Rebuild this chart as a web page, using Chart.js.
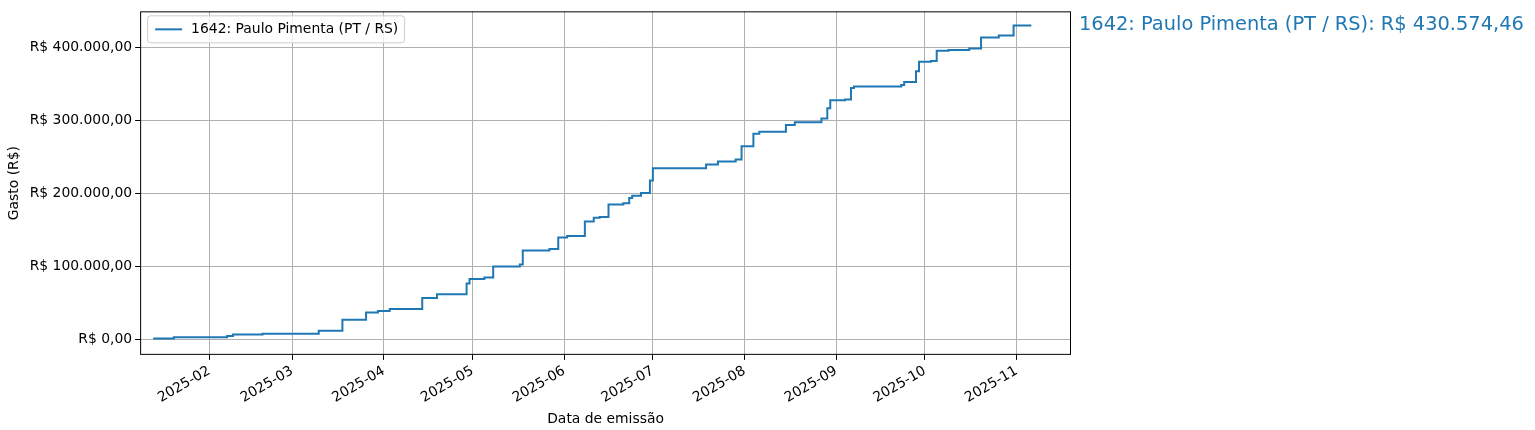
<!DOCTYPE html>
<html><head><meta charset="utf-8">
<script src="https://cdn.jsdelivr.net/npm/chart.js@4"></script>
<style>body{margin:0;background:#fff}#w{width:1535px;height:430px}</style>
</head><body><div id="w"><canvas id="c"></canvas></div>
<script>
const dates=["2025-01-13","2025-01-20","2025-02-07","2025-02-09","2025-02-19","2025-03-10","2025-03-18","2025-03-26","2025-03-30","2025-04-03","2025-04-14","2025-04-19","2025-04-29","2025-04-30","2025-05-05","2025-05-08","2025-05-17","2025-05-18","2025-05-27","2025-05-30","2025-06-02","2025-06-08","2025-06-11","2025-06-13","2025-06-16","2025-06-21","2025-06-23","2025-06-24","2025-06-27","2025-06-30","2025-07-01","2025-07-19","2025-07-23","2025-07-29","2025-07-31","2025-08-04","2025-08-06","2025-08-15","2025-08-18","2025-08-27","2025-08-29","2025-08-30","2025-09-04","2025-09-06","2025-09-07","2025-09-23","2025-09-24","2025-09-28","2025-09-29","2025-10-03","2025-10-05","2025-10-09","2025-10-16","2025-10-20","2025-10-26","2025-10-31","2025-11-06"];
const values=[1400,3000,5000,7000,8000,12000,27000,37000,39000,42000,57000,62000,77000,83000,85000,100000,103000,122000,124000,140000,142000,162000,167000,168000,185000,187000,194000,197000,201000,218000,235000,240000,244000,247000,265000,282000,285000,294000,298000,303000,317000,328000,329000,345000,347000,349000,353000,368000,381000,382000,396000,397000,399000,414000,417000,430574.46,430574.46];
const monthTicks=["2025-02","2025-03","2025-04","2025-05","2025-06","2025-07","2025-08","2025-09","2025-10","2025-11"];
const seriesLabel="1642: Paulo Pimenta (PT / RS)";
const totalLabel="1642: Paulo Pimenta (PT / RS): R$ 430.574,46";
const ts=s=>Date.UTC(+s.slice(0,4),+s.slice(5,7)-1,s.length>7?+s.slice(8,10):1);
const fmt=v=>"R$ "+v.toFixed(2).replace(".",",").replace(/\B(?=(\d{3})+(?!\d))/g,".");
const blue="#1f77b4";
const F=13.9;
const deco={id:"deco",afterDraw(ch){const c=ch.ctx,a=ch.chartArea;c.save();
c.fillStyle=blue;c.font="19.4px 'DejaVu Sans'";c.textBaseline="middle";c.fillText(totalLabel,a.right+8,25);
c.fillStyle="rgba(255,255,255,0.8)";c.strokeStyle="#ccc";c.lineWidth=1;
c.beginPath();c.roundRect(a.left+7.5,a.top+4.5,257,27,3);c.fill();c.stroke();
c.strokeStyle=blue;c.lineWidth=2;c.beginPath();c.moveTo(a.left+15,a.top+18);c.lineTo(a.left+42,a.top+18);c.stroke();
c.fillStyle="#000";c.font=F+"px 'DejaVu Sans'";c.fillText(seriesLabel,a.left+51,a.top+18);
c.strokeStyle="#000";c.lineWidth=1;c.strokeRect(a.left+0.5,a.top+0.5,a.right-a.left-1,a.bottom-a.top-1);c.restore();}};
new Chart(document.getElementById("c"),{type:"line",
data:{datasets:[{data:dates.map((d,i)=>({x:ts(d),y:values[i]})),borderColor:blue,borderWidth:2,stepped:"before",pointRadius:0,fill:false}]},
options:{responsive:true,maintainAspectRatio:false,animation:false,
layout:{padding:{top:10,right:464,left:2,bottom:2}},
plugins:{legend:{display:false},tooltip:{enabled:false}},
scales:{x:{type:"linear",min:ts("2025-01-08")+14*3600e3,max:ts("2025-11-19")+10*3600e3,
afterBuildTicks:ax=>{ax.ticks=monthTicks.map(m=>({value:ts(m)}));},
ticks:{autoSkip:false,maxRotation:30,minRotation:30,color:"#000",font:{family:"DejaVu Sans",size:F},callback:v=>{const d=new Date(v);return d.getUTCFullYear()+"-"+String(d.getUTCMonth()+1).padStart(2,"0");}},
grid:{color:"#b0b0b0",lineWidth:1,tickLength:5,tickColor:"#000"},border:{display:false},
title:{display:true,text:"Data de emissão",color:"#000",font:{family:"DejaVu Sans",size:F},padding:{top:2,bottom:0}}},
y:{min:-21000,max:450000,afterBuildTicks:ax=>{ax.ticks=[0,100000,200000,300000,400000].map(v=>({value:v}));},
ticks:{color:"#000",font:{family:"DejaVu Sans",size:F},callback:v=>fmt(v)},
grid:{color:"#b0b0b0",lineWidth:1,tickLength:5,tickColor:"#000"},border:{display:false},
title:{display:true,text:"Gasto (R$)",color:"#000",font:{family:"DejaVu Sans",size:F}}}}},
plugins:[deco]});
</script></body></html>
